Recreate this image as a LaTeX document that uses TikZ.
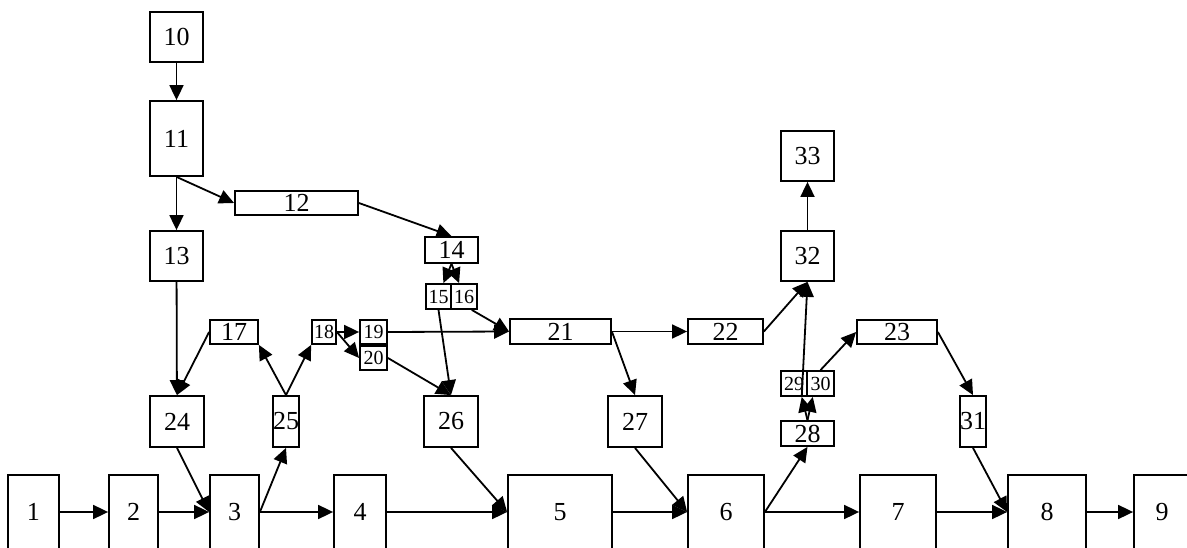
\documentclass[tikz,border=0pt]{standalone}
\usepackage{fontspec}
\setmainfont{Liberation Serif}
\usetikzlibrary{arrows.meta}

\tikzset{
  blk/.style={draw, line width=1.8pt, inner sep=0pt, font=\fontsize{26}{26}\selectfont},
  sblk/.style={blk, font=\fontsize{20}{20}\selectfont},
  sz/.style 2 args={minimum width=#1pt, minimum height=#2pt},
  arr/.style={-{Triangle[length=15pt,width=14pt]}, line width=1.8pt},
}

\begin{document}
\begin{tikzpicture}[x=1pt,y=-1pt]
		\useasboundingbox (0,0) rectangle (1187,548);
		\clip (0,0) rectangle (1187,548);
		
		% bottom row
		\foreach \i/\x/\w in {1/33.5/51, 2/133.5/49, 3/234.5/49, 4/360/52, 5/560/104,
		                      6/726/76, 7/898/76, 8/1047/78, 9/1162/56}
		  \node[blk, sz={\w}{74}] (b\i) at (\x,512) {\i};
		
		\node[blk, sz={53}{50}] (b10) at (176.5,37) {10};
		\node[blk, sz={53}{75}] (b11) at (176.5,138.5) {11};
		\node[blk, sz={123}{24}] (b12) at (296.5,203) {12};
		\node[blk, sz={53}{50}] (b13) at (176.5,256) {13};
		\node[blk, sz={53}{26}] (b14) at (451.5,250) {14};
		\node[sblk, sz={25}{25}] (b15) at (438.5,296.5) {15};
		\node[sblk, sz={26}{25}] (b16) at (464,296.5) {16};
		\node[blk, sz={48}{24}] (b17) at (234,332) {17};
		\node[sblk, sz={24}{24}] (b18) at (324,332) {18};
		\node[sblk, sz={27}{24}] (b19) at (373.5,332) {19};
		\node[sblk, sz={27}{24}] (b20) at (373.5,358) {20};
		\node[blk, sz={101}{25}] (b21) at (560.5,331.5) {21};
		\node[blk, sz={75}{25}] (b22) at (725.5,331.5) {22};
		\node[blk, sz={80}{24}] (b23) at (897,332) {23};
		\node[blk, sz={54}{51}] (b24) at (177,421.5) {24};
		\node[blk, sz={26}{51}] (b25) at (286,421.5) {25};
		\node[blk, sz={54}{51}] (b26) at (451,421.5) {26};
		\node[blk, sz={54}{51}] (b27) at (635,421.5) {27};
		\node[blk, sz={53}{25}] (b28) at (807.5,433.5) {28};
		\node[sblk, sz={26}{25}] (b29) at (794,383.5) {29};
		\node[sblk, sz={27}{25}] (b30) at (820.5,383.5) {30};
		\node[blk, sz={26}{51}] (b31) at (973,421.5) {31};
		\node[blk, sz={53}{50}] (b32) at (807.5,256) {32};
		\node[blk, sz={53}{50}] (b33) at (807.5,156) {33};
		
		\foreach \i [evaluate=\i as \j using int(\i+1)] in {1,...,8}
		  \draw[arr] (b\i) -- (b\j);
		
		\draw[arr] (b10) -- (b11);
		\draw[arr] (b11) -- (b13);
		\draw[arr] (b11.south) -- (b12.west);
		\draw[arr] (b12.east) -- (b14.north);
		\draw[arr] (b13) -- (b24);
		\draw[arr] (b14.south) -- (b15.70);
		\draw[arr] (b14.south) -- (b16.110);
		\draw[arr] (b15.south) -- (b26.north);
		\draw[arr] (b16.-60) -- (b21.west);
		\draw[arr] (b17.west) -- (b24.north);
		\draw[arr] (b25.north) -- (b17.south east);
		\draw[arr] (b25.north) -- (b18.south west);
		\draw[arr] (b18.east) -- (b19.west);
		\draw[arr] (b18.east) -- (b20.west);
		\draw[arr] (b19.east) -- (b21.west);
		\draw[arr] (b20.east) -- (b26.north);
		\draw[arr] (b21.east) -- (b22.west);
		\draw[arr] (b21.east) -- (b27.north);
		\draw[arr] (b22.east) -- (b32.south);
		\draw[arr] (b29.-60) -- (b32.south);
		\draw[arr] (b30.north) -- (b23.west);
		\draw[arr] (b23.east) -- (b31.north);
		\draw[arr] (b28.north) -- (b29.-60);
		\draw[arr] (b28.north) -- (b30.-120);
		\draw[arr] (b32) -- (b33);
		
		\draw[arr] (b24.south) -- (b3.west);
		\draw[arr] (b3.east) -- (b25.south);
		\draw[arr] (b26.south) -- (b5.west);
		\draw[arr] (b27.south) -- (b6.west);
		\draw[arr] (b6.east) -- (b28.south);
		\draw[arr] (b31.south) -- (b8.west);
\end{tikzpicture}
\end{document}
